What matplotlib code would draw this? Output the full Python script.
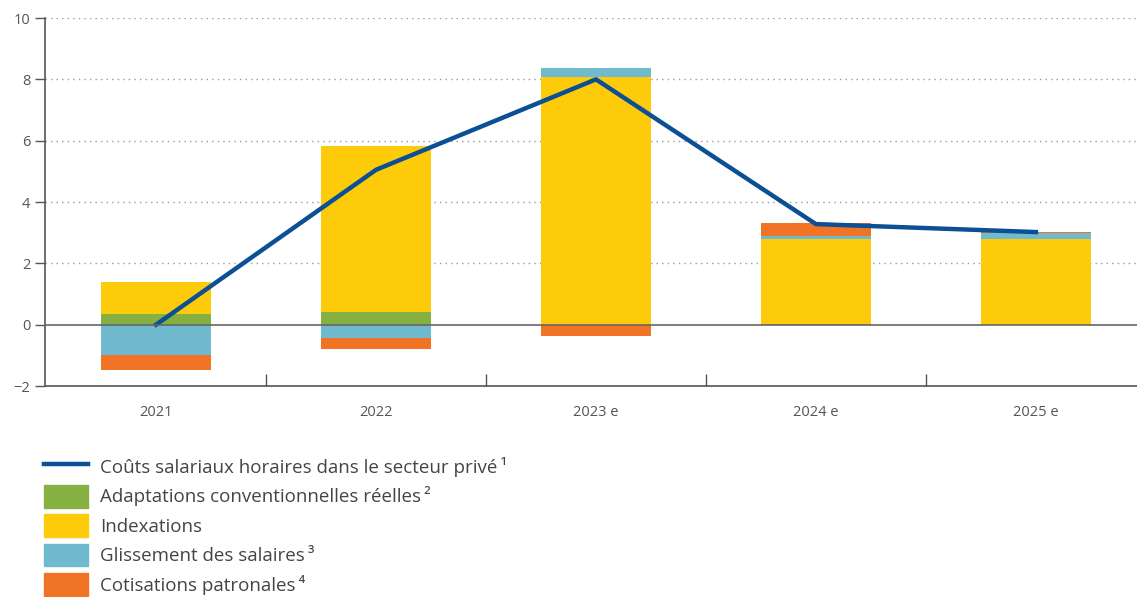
import matplotlib.pyplot as plt
from matplotlib.patches import Patch
from matplotlib.lines import Line2D
import numpy as np

plt.rcParams['font.family'] = ['Open Sans', 'DejaVu Sans']

years = ['2021', '2022', '2023 e', '2024 e', '2025 e']
adaptations = [0.36, 0.40, 0.0, 0.02, 0.0]
indexations = [1.04, 5.43, 8.07, 2.77, 2.80]
glissement = [-0.98, -0.42, 0.30, 0.09, 0.19]
cotisations = [-0.49, -0.36, -0.36, 0.42, 0.02]
couts = [0.0, 5.05, 8.0, 3.28, 3.02]

labels = ['Coûts salariaux horaires dans le secteur privé\u2009¹',
          'Adaptations conventionnelles réelles\u2009²',
          'Indexations',
          'Glissement des salaires\u2009³',
          'Cotisations patronales\u2009⁴']
c_line = '#0b4f94'
c_green = '#86b142'
c_yellow = '#fdcb0a'
c_blue = '#70bad0'
c_orange = '#f07326'
grey = '#555555'

fig = plt.figure(figsize=(11.37, 5.97), dpi=100)
ax = fig.add_axes([45 / 1137, 211 / 597, 1092 / 1137, 368 / 597])

x = np.arange(len(years))
w = 0.5
pos_base = np.zeros(len(years))
neg_base = np.zeros(len(years))
for vals, col in [(adaptations, c_green), (indexations, c_yellow),
                  (glissement, c_blue), (cotisations, c_orange)]:
    vals = np.array(vals)
    bottoms = np.where(vals >= 0, pos_base, neg_base)
    ax.bar(x, vals, w, bottom=bottoms, color=col, zorder=2)
    pos_base += np.where(vals >= 0, vals, 0)
    neg_base += np.where(vals < 0, vals, 0)

ax.plot(x, couts, color=c_line, lw=3.2, zorder=3)

ax.set_xlim(-0.505, 4.46)
ax.set_ylim(-2, 10)
ax.set_yticks(range(-2, 11, 2))
ax.set_yticklabels(['\u22122', '0', '2', '4', '6', '8', '10'])
ax.set_xticks(x)
ax.set_xticklabels(years)
ax.set_xticks(x[:-1] + 0.5, minor=True)
ax.tick_params(axis='x', which='major', length=0, pad=14, labelsize=10.5, colors=grey)
ax.tick_params(axis='x', which='minor', direction='in', length=9, color=grey, width=1)
ax.tick_params(axis='y', length=7, color=grey, labelsize=10.5, labelcolor=grey, width=1)

for v in range(2, 11, 2):
    ax.axhline(v, color='#9a9a9a', lw=1, ls=(0, (1, 3)), zorder=1)
ax.axhline(0, color='#666666', lw=1.2, zorder=4)

for s in ['top', 'right']:
    ax.spines[s].set_visible(False)
ax.spines['left'].set_color(grey)
ax.spines['bottom'].set_color(grey)
ax.spines['left'].set_linewidth(1.2)
ax.spines['bottom'].set_linewidth(1.2)

handles = [Line2D([0], [0], color=c_line, lw=3.2),
           Patch(color=c_green), Patch(color=c_yellow),
           Patch(color=c_blue), Patch(color=c_orange)]
leg = fig.legend(handles, labels, loc='upper left', bbox_to_anchor=(0.0325, 0.25),
                 frameon=False, fontsize=13.5, handlelength=2.3, handleheight=1.5,
                 handletextpad=0.65, labelspacing=0.35, borderaxespad=0)
for t in leg.get_texts():
    t.set_color('#444444')

fig.savefig('out.png', dpi=100)
